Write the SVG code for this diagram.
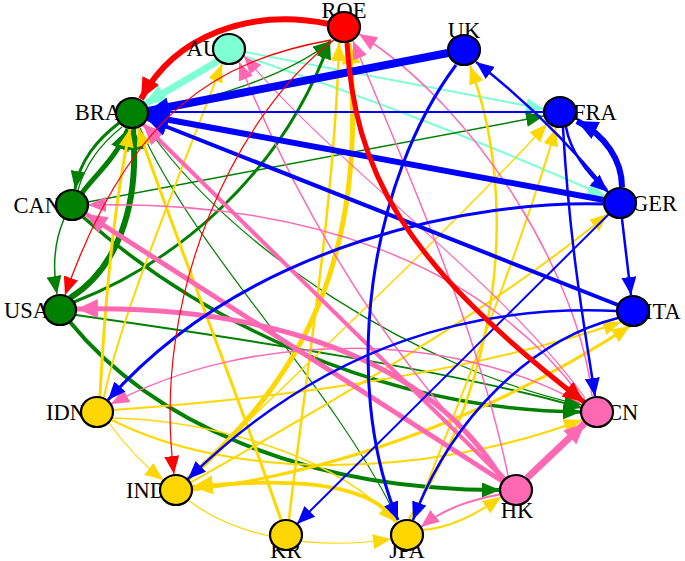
<svg xmlns="http://www.w3.org/2000/svg" width="685" height="561" viewBox="0 0 685 561">
<style>
.e{fill:none;stroke-linecap:butt}
.r{stroke:#ff0000}.a{stroke:#7fffd4}.b{stroke:#0000ff}.g{stroke:#008000}.y{stroke:#ffd700}.p{stroke:#ff69b4}
.n{stroke:#000;stroke-width:2.2}
.l{font-family:"Liberation Serif","Times New Roman",serif;font-size:22.5px;fill:#000}
</style>
<defs>
<marker id="mr" markerUnits="userSpaceOnUse" markerWidth="18" markerHeight="15" viewBox="0 0 18 15" refX="18" refY="7.5" orient="auto"><path d="M0,0L18,7.5L0,15z" fill="#ff0000"/></marker>
<marker id="ma" markerUnits="userSpaceOnUse" markerWidth="18" markerHeight="15" viewBox="0 0 18 15" refX="18" refY="7.5" orient="auto"><path d="M0,0L18,7.5L0,15z" fill="#7fffd4"/></marker>
<marker id="mb" markerUnits="userSpaceOnUse" markerWidth="18" markerHeight="15" viewBox="0 0 18 15" refX="18" refY="7.5" orient="auto"><path d="M0,0L18,7.5L0,15z" fill="#0000ff"/></marker>
<marker id="mg" markerUnits="userSpaceOnUse" markerWidth="18" markerHeight="15" viewBox="0 0 18 15" refX="18" refY="7.5" orient="auto"><path d="M0,0L18,7.5L0,15z" fill="#008000"/></marker>
<marker id="my" markerUnits="userSpaceOnUse" markerWidth="18" markerHeight="15" viewBox="0 0 18 15" refX="18" refY="7.5" orient="auto"><path d="M0,0L18,7.5L0,15z" fill="#ffd700"/></marker>
<marker id="mp" markerUnits="userSpaceOnUse" markerWidth="18" markerHeight="15" viewBox="0 0 18 15" refX="18" refY="7.5" orient="auto"><path d="M0,0L18,7.5L0,15z" fill="#ff69b4"/></marker>
<marker id="Mr" markerUnits="userSpaceOnUse" markerWidth="21" markerHeight="19" viewBox="0 0 21 19" refX="21" refY="9.5" orient="auto"><path d="M0,0L21,9.5L0,19z" fill="#ff0000"/></marker>
<marker id="Ma" markerUnits="userSpaceOnUse" markerWidth="21" markerHeight="19" viewBox="0 0 21 19" refX="21" refY="9.5" orient="auto"><path d="M0,0L21,9.5L0,19z" fill="#7fffd4"/></marker>
<marker id="Mb" markerUnits="userSpaceOnUse" markerWidth="21" markerHeight="19" viewBox="0 0 21 19" refX="21" refY="9.5" orient="auto"><path d="M0,0L21,9.5L0,19z" fill="#0000ff"/></marker>
<marker id="Mg" markerUnits="userSpaceOnUse" markerWidth="21" markerHeight="19" viewBox="0 0 21 19" refX="21" refY="9.5" orient="auto"><path d="M0,0L21,9.5L0,19z" fill="#008000"/></marker>
<marker id="My" markerUnits="userSpaceOnUse" markerWidth="21" markerHeight="19" viewBox="0 0 21 19" refX="21" refY="9.5" orient="auto"><path d="M0,0L21,9.5L0,19z" fill="#ffd700"/></marker>
<marker id="Mp" markerUnits="userSpaceOnUse" markerWidth="21" markerHeight="19" viewBox="0 0 21 19" refX="21" refY="9.5" orient="auto"><path d="M0,0L21,9.5L0,19z" fill="#ff69b4"/></marker>
</defs>
<g id="edges">
<!-- aquamarine -->
<path class="e a" stroke-width="2" d="M244,56 Q430,118 605,196" marker-end="url(#ma)"/>
<path class="e a" stroke-width="2" d="M245,52 L544,109" marker-end="url(#ma)"/>
<path class="e a" stroke-width="7" d="M218,61 L145,104" marker-end="url(#Ma)"/>
<!-- green -->
<path class="e g" stroke-width="1.2" d="M78,190 C86,162 103,142 122,127"/>
<path class="e g" stroke-width="3" d="M119,123 C97,140 80,160 75,189" marker-end="url(#mg)"/>
<path class="e g" stroke-width="1.5" d="M64,219 C55,240 52,265 57,294" marker-end="url(#mg)"/>
<path class="e g" stroke-width="1.5" d="M148,111 C210,100 290,75 331,41" marker-end="url(#mg)"/>
<path class="e g" stroke-width="3" d="M74,302 C170,265 280,180 330,41" marker-end="url(#mg)"/>
<path class="e g" stroke-width="1.5" d="M88,202 L544,116" marker-end="url(#mg)"/>
<path class="e g" stroke-width="1.2" d="M145,124 C230,250 420,370 582,405" marker-end="url(#mg)"/>
<path class="e g" stroke-width="1.2" d="M140,128 C200,260 330,380 398,520" marker-end="url(#mg)"/>
<path class="e g" stroke-width="2" d="M76,315 C250,340 450,370 582,408" marker-end="url(#mg)"/>
<path class="e g" stroke-width="3.5" d="M83,217 C200,320 380,410 581,412" marker-end="url(#mg)"/>
<path class="e g" stroke-width="4" d="M70,322 C150,420 300,490 500,490" marker-end="url(#mg)"/>
<path class="e g" stroke-width="5" d="M82,193 C95,175 115,160 128,129" marker-end="url(#Mg)"/>
<path class="e g" stroke-width="6" d="M70,298 C115,270 140,210 133,129" marker-end="url(#Mg)"/>
<!-- gold -->
<path class="e y" stroke-width="3" d="M100,396 C105,300 115,200 130,129" marker-end="url(#my)"/>
<path class="e y" stroke-width="2" d="M104,397 C120,320 170,200 222,64" marker-end="url(#my)"/>
<path class="e y" stroke-width="1.2" d="M109,423 C125,445 140,462 163,480" marker-end="url(#my)"/>
<path class="e y" stroke-width="2" d="M113,410 C250,400 450,380 621,322" marker-end="url(#my)"/>
<path class="e y" stroke-width="2" d="M112,420 C230,480 420,480 582,420" marker-end="url(#my)"/>
<path class="e y" stroke-width="1.5" d="M112,418 C200,420 330,450 396,522" marker-end="url(#my)"/>
<path class="e y" stroke-width="2.5" d="M289,519 C305,380 335,200 339,43" marker-end="url(#my)"/>
<path class="e y" stroke-width="3" d="M281,520 C240,400 180,250 138,128" marker-end="url(#my)"/>
<path class="e y" stroke-width="1.5" d="M188,479 C300,370 450,230 547,124" marker-end="url(#my)"/>
<path class="e y" stroke-width="2" d="M413,520 C460,400 520,250 556,128" marker-end="url(#my)"/>
<path class="e y" stroke-width="2.5" d="M409,519 C500,380 520,200 470,66" marker-end="url(#my)"/>
<path class="e y" stroke-width="2" d="M190,483 C300,420 480,320 608,214" marker-end="url(#my)"/>
<path class="e y" stroke-width="3" d="M192,490 C350,470 500,410 630,326" marker-end="url(#my)"/>
<path class="e y" stroke-width="1.2" d="M188,500 C240,540 320,550 391,539" marker-end="url(#my)"/>
<path class="e y" stroke-width="2" d="M422,530 C450,528 475,515 501,497" marker-end="url(#my)"/>
<path class="e y" stroke-width="4" d="M396,522 C370,480 280,478 192,487" marker-end="url(#My)"/>
<path class="e y" stroke-width="5" d="M188,479 C300,380 370,260 349,43" marker-end="url(#My)"/>
<!-- pink -->
<path class="e p" stroke-width="1.5" d="M582,398 C480,260 300,200 88,205" marker-end="url(#mp)"/>
<path class="e p" stroke-width="1.5" d="M580,403 C450,330 250,330 111,404" marker-end="url(#mp)"/>
<path class="e p" stroke-width="1.2" d="M585,398 C500,280 340,170 244,56" marker-end="url(#mp)"/>
<path class="e p" stroke-width="1.5" d="M592,396 C580,280 480,110 359,34" marker-end="url(#mp)"/>
<path class="e p" stroke-width="1.5" d="M508,475 C480,340 420,200 353,41" marker-end="url(#mp)"/>
<path class="e p" stroke-width="1.5" d="M505,477 C420,390 320,260 239,62" marker-end="url(#mp)"/>
<path class="e p" stroke-width="2" d="M502,494 C470,500 445,508 421,527" marker-end="url(#mp)"/>
<path class="e p" stroke-width="4" d="M504,479 L143,124" marker-end="url(#Mp)"/>
<path class="e p" stroke-width="5" d="M502,481 L86,214" marker-end="url(#Mp)"/>
<path class="e p" stroke-width="5" d="M502,479 C430,360 270,305 77,309" marker-end="url(#Mp)"/>
<path class="e p" stroke-width="7" d="M527,478 L585,423" marker-end="url(#Mp)"/>
<!-- blue -->
<path class="e b" stroke-width="2" d="M544,112 L148,112" marker-end="url(#mb)"/>
<path class="e b" stroke-width="2.5" d="M563,128 C570,250 585,330 595,396" marker-end="url(#mb)"/>
<path class="e b" stroke-width="2.5" d="M566,127 Q572,160 608,192" marker-end="url(#mb)"/>
<path class="e b" stroke-width="2.5" d="M607,190 Q545,115 476,62" marker-end="url(#mb)"/>
<path class="e b" stroke-width="3" d="M456,65 C370,180 340,380 398,520" marker-end="url(#mb)"/>
<path class="e b" stroke-width="2.5" d="M622,219 L631,295" marker-end="url(#mb)"/>
<path class="e b" stroke-width="3" d="M604,204 C480,200 250,240 108,400" marker-end="url(#mb)"/>
<path class="e b" stroke-width="2" d="M609,214 L297,524" marker-end="url(#mb)"/>
<path class="e b" stroke-width="2.5" d="M617,311 C480,305 330,340 188,479" marker-end="url(#mb)"/>
<path class="e b" stroke-width="2.5" d="M618,318 C530,340 450,420 413,520" marker-end="url(#mb)"/>
<path class="e b" stroke-width="4" d="M618,305 L147,119" marker-end="url(#Mb)"/>
<path class="e b" stroke-width="6" d="M604,200 L148,116" marker-end="url(#Mb)"/>
<path class="e b" stroke-width="6" d="M622,187 C622,160 605,135 577,121" marker-end="url(#Mb)"/>
<path class="e b" stroke-width="8" d="M448,53 L148,111" marker-end="url(#Mb)"/>
<!-- red -->
<path class="e r" stroke-width="1.3" d="M331,40 C220,60 130,110 65,295" marker-end="url(#mr)"/>
<path class="e r" stroke-width="1.2" d="M334,40 C240,110 150,290 174,474" marker-end="url(#mr)"/>
<path class="e r" stroke-width="5" d="M347,43 C355,170 400,260 584,402" marker-end="url(#Mr)"/>
<path class="e r" stroke-width="6" d="M329,24 C250,8 175,35 141,99" marker-end="url(#Mr)"/>
</g>
<g id="ROE"><text class="l" x="344" y="18" text-anchor="middle">ROE</text><ellipse class="n" cx="344" cy="27" rx="16" ry="15" fill="#ff0000"/></g>
<g id="AU"><text class="l" x="219" y="56" text-anchor="end">AU</text><ellipse class="n" cx="229" cy="49" rx="16" ry="15" fill="#7fffd4"/></g>
<g id="UK"><text class="l" x="464" y="38" text-anchor="middle">UK</text><ellipse class="n" cx="464" cy="50" rx="16" ry="15" fill="#0000ff"/></g>
<g id="BRA"><text class="l" x="121" y="120" text-anchor="end">BRA</text><ellipse class="n" cx="132" cy="113" rx="16" ry="15" fill="#008000"/></g>
<g id="FRA"><text class="l" x="573" y="120" text-anchor="start">FRA</text><ellipse class="n" cx="560" cy="112" rx="16" ry="15" fill="#0000ff"/></g>
<g id="CAN"><text class="l" x="61" y="213" text-anchor="end">CAN</text><ellipse class="n" cx="72" cy="205" rx="16" ry="15" fill="#008000"/></g>
<g id="GER"><text class="l" x="632" y="211" text-anchor="start">GER</text><ellipse class="n" cx="620" cy="203" rx="16" ry="15" fill="#0000ff"/></g>
<g id="USA"><text class="l" x="49" y="318" text-anchor="end">USA</text><ellipse class="n" cx="60" cy="310" rx="16" ry="15" fill="#008000"/></g>
<g id="ITA"><text class="l" x="645" y="319" text-anchor="start">ITA</text><ellipse class="n" cx="633" cy="311" rx="16" ry="15" fill="#0000ff"/></g>
<g id="IDN"><text class="l" x="86" y="420" text-anchor="end">IDN</text><ellipse class="n" cx="97" cy="412" rx="16" ry="15" fill="#ffd700"/></g>
<g id="CN"><text class="l" x="607" y="420" text-anchor="start">CN</text><ellipse class="n" cx="597" cy="412" rx="16" ry="15" fill="#ff69b4"/></g>
<g id="IND"><text class="l" x="166" y="498" text-anchor="end">IND</text><ellipse class="n" cx="176" cy="490" rx="16" ry="15" fill="#ffd700"/></g>
<g id="HK"><text class="l" x="517" y="518" text-anchor="middle">HK</text><ellipse class="n" cx="516" cy="490" rx="16" ry="15" fill="#ff69b4"/></g>
<g id="KR"><text class="l" x="286" y="558" text-anchor="middle">KR</text><ellipse class="n" cx="286" cy="535" rx="16" ry="15" fill="#ffd700"/></g>
<g id="JPA"><text class="l" x="407" y="558" text-anchor="middle">JPA</text><ellipse class="n" cx="407" cy="535" rx="16" ry="15" fill="#ffd700"/></g>
</svg>
